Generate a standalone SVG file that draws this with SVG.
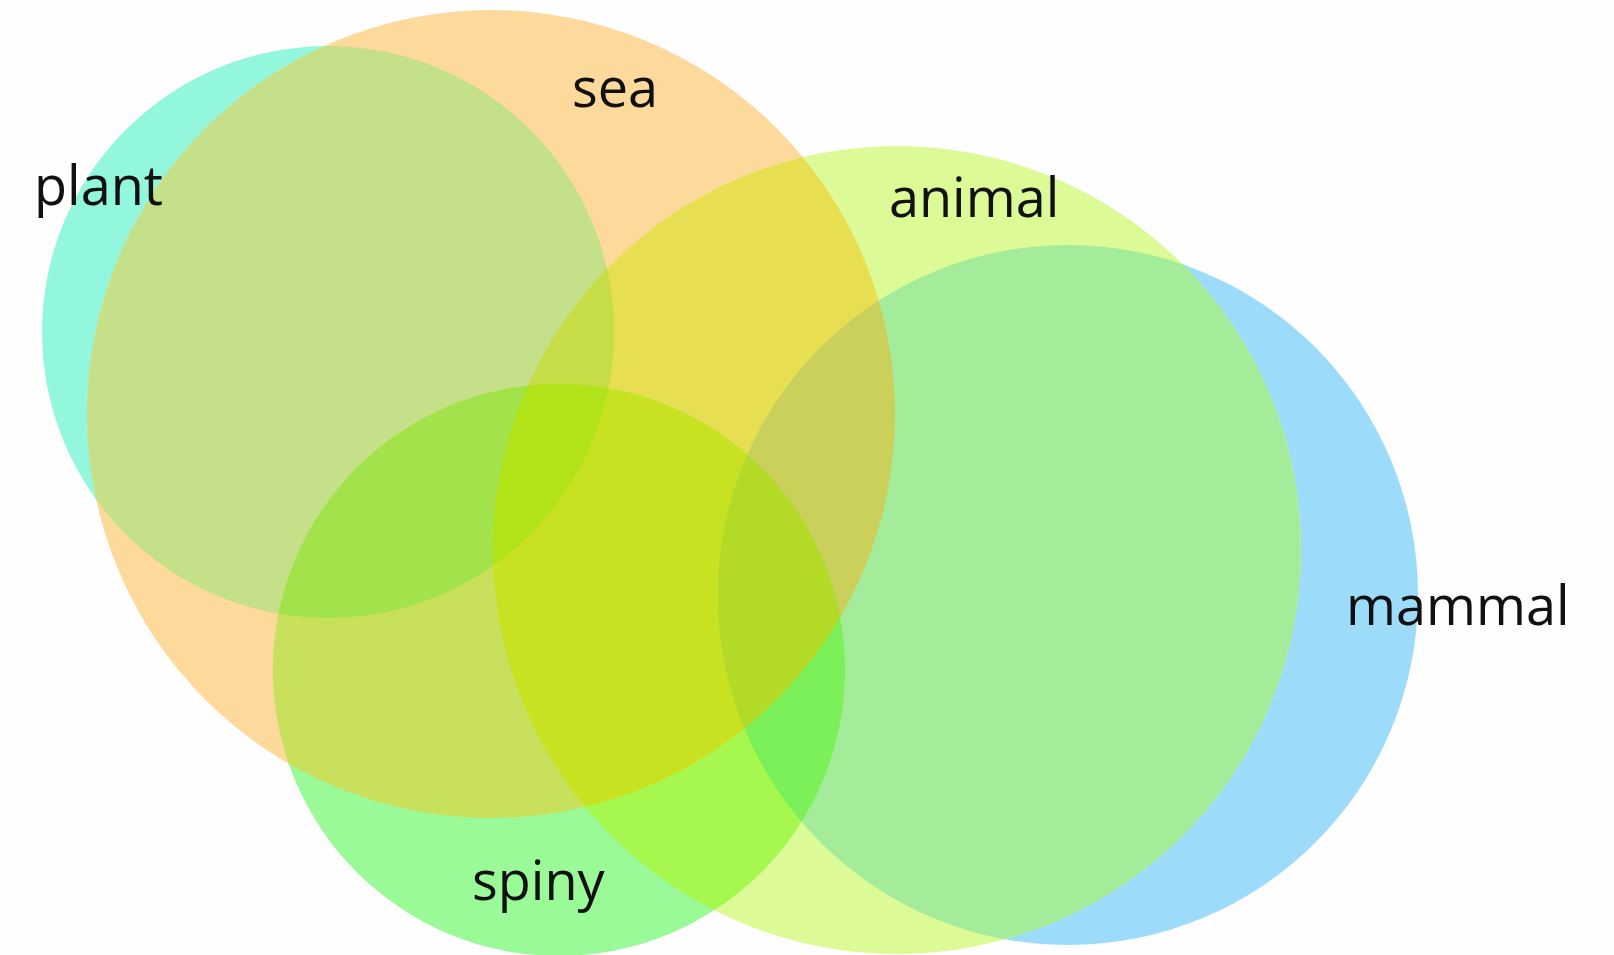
<svg xmlns="http://www.w3.org/2000/svg" xmlns:xlink="http://www.w3.org/1999/xlink" width="1614" height="955" viewBox="0 0 1614 955">
  <style>
    .lbl { font-family: "Open Sans", "Noto Sans", "Liberation Sans", sans-serif; font-size: 54px; font-weight: 500; fill: #111; }
    /* single sets */
    .p { fill: #93f7dd; }
    .s { fill: #fdd99b; }
    .a { fill: #dcfb96; }
    .m { fill: #9cdcfa; }
    .y { fill: #9afa98; }
    /* pairwise overlaps */
    .ps { fill: #c4e088; }
    .sa { fill: #e8de52; }
    .sy { fill: #c8e05c; }
    .am { fill: #a4ec9a; }
    .ay { fill: #a6f84e; }
    /* triple overlaps */
    .psa { fill: #c6dd48; }
    .psy { fill: #a2e24a; }
    .say { fill: #c8e222; }
    .sam { fill: #cad05a; }
    .aym { fill: #7cf058; }
    /* quadruple overlaps */
    .psay { fill: #b2e218; }
    .saym { fill: #b2da26; }
  </style>
  <defs>
    <circle id="cP" cx="328" cy="332" r="286"/>
    <circle id="cS" cx="491" cy="414" r="404"/>
    <circle id="cA" cx="897" cy="550" r="404"/>
    <circle id="cM" cx="1068" cy="595" r="350"/>
    <circle id="cY" cx="559" cy="670" r="286"/>
    <clipPath id="kP"><use xlink:href="#cP"/></clipPath>
    <clipPath id="kS"><use xlink:href="#cS"/></clipPath>
    <clipPath id="kA"><use xlink:href="#cA"/></clipPath>
    <clipPath id="kM"><use xlink:href="#cM"/></clipPath>
    <clipPath id="kY"><use xlink:href="#cY"/></clipPath>
  </defs>

  <rect width="1614" height="955" fill="#fefefe"/>

  <!-- set areas, painted from single sets up to the deepest overlaps -->
  <g id="regions">
    <use xlink:href="#cP" class="p"/>
    <use xlink:href="#cS" class="s"/>
    <use xlink:href="#cM" class="m"/>
    <use xlink:href="#cA" class="a"/>
    <use xlink:href="#cY" class="y"/>

    <g clip-path="url(#kS)"><use xlink:href="#cP" class="ps"/></g>
    <g clip-path="url(#kS)"><use xlink:href="#cA" class="sa"/></g>
    <g clip-path="url(#kS)"><use xlink:href="#cY" class="sy"/></g>
    <g clip-path="url(#kA)"><use xlink:href="#cM" class="am"/></g>
    <g clip-path="url(#kA)"><use xlink:href="#cY" class="ay"/></g>

    <g clip-path="url(#kP)"><g clip-path="url(#kS)"><use xlink:href="#cA" class="psa"/></g></g>
    <g clip-path="url(#kP)"><g clip-path="url(#kS)"><use xlink:href="#cY" class="psy"/></g></g>
    <g clip-path="url(#kS)"><g clip-path="url(#kA)"><use xlink:href="#cY" class="say"/></g></g>
    <g clip-path="url(#kS)"><g clip-path="url(#kA)"><use xlink:href="#cM" class="sam"/></g></g>
    <g clip-path="url(#kA)"><g clip-path="url(#kY)"><use xlink:href="#cM" class="aym"/></g></g>

    <g clip-path="url(#kP)"><g clip-path="url(#kS)"><g clip-path="url(#kA)"><use xlink:href="#cY" class="psay"/></g></g></g>
    <g clip-path="url(#kS)"><g clip-path="url(#kA)"><g clip-path="url(#kY)"><use xlink:href="#cM" class="saym"/></g></g></g>
  </g>

  <!-- set names -->
  <g id="node-plant"><text class="lbl" x="34" y="205">plant</text></g>
  <g id="node-sea"><text class="lbl" x="572" y="107">sea</text></g>
  <g id="node-animal"><text class="lbl" x="889" y="217">animal</text></g>
  <g id="node-mammal"><text class="lbl" x="1346" y="625">mammal</text></g>
  <g id="node-spiny"><text class="lbl" x="472" y="900">spiny</text></g>
</svg>
